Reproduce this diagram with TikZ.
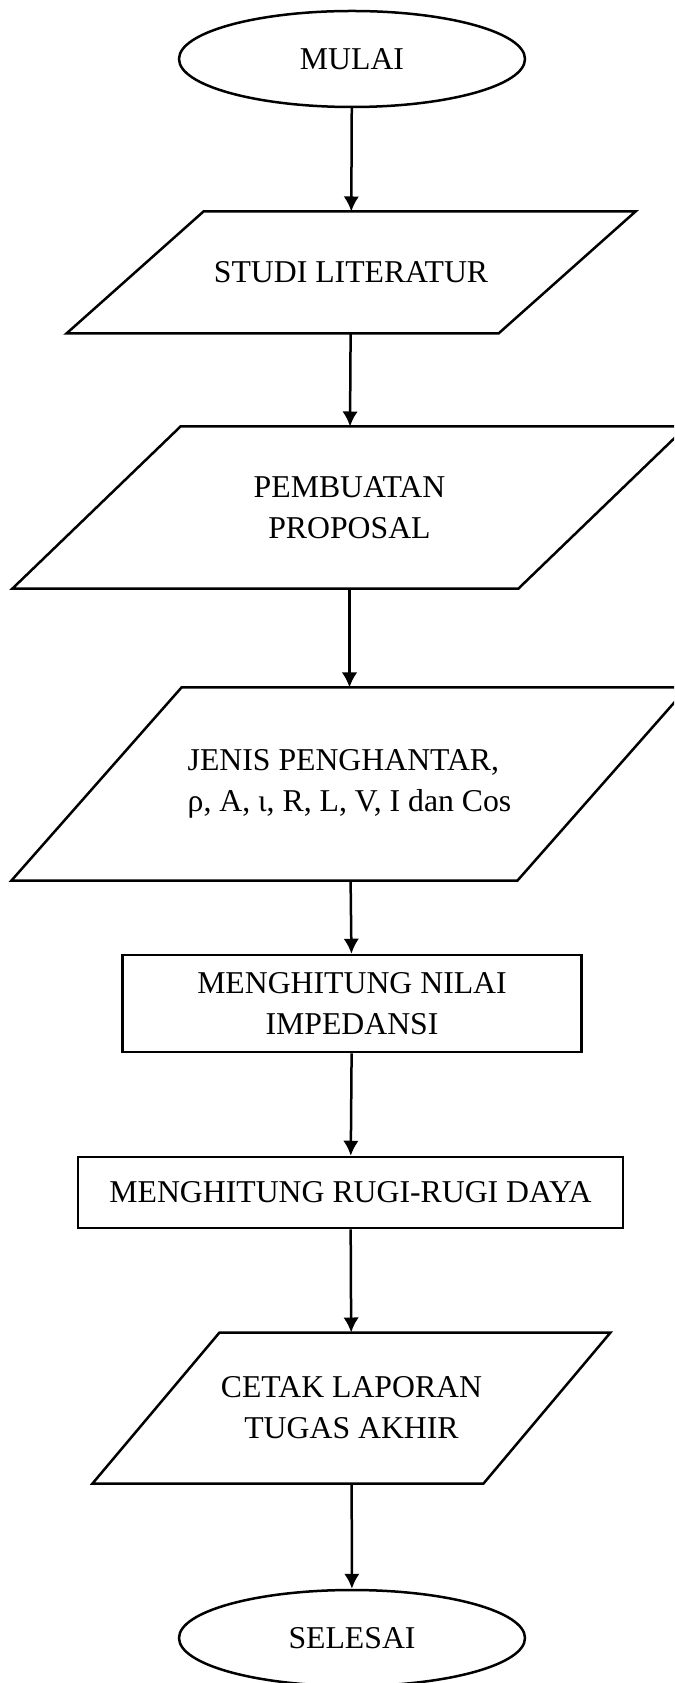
\documentclass[tikz,border=0pt]{standalone}
\usepackage{fontspec}
\setmainfont{Liberation Serif}
\usetikzlibrary{arrows.meta,calc,shapes.geometric}

% slanted input/output box drawn round a named node
\newcommand{\iobox}[2]{%
  \draw[line width=1pt] ($(#1.south west)+(-#2,0)$) -- ($(#1.south east)+(-#2,0)$)
    -- ($(#1.north east)+(#2,0)$) -- ($(#1.north west)+(#2,0)$) -- cycle;}

\begin{document}
\begin{tikzpicture}[
    x=0.4pt, y=-0.4pt,
    every node/.style={font=\fontsize{12.7}{16.5}\selectfont},
    terminal/.style={ellipse, draw, line width=1pt, minimum width=138.4pt,
        minimum height=38.4pt, inner sep=0pt},
    iotext/.style={rectangle, align=center, inner sep=0pt},
    process/.style={rectangle, draw, line width=1pt, align=center, inner sep=0pt},
    arrow/.style={-{Latex[length=6pt, width=6.2pt]}, line width=1pt},
    ]
    \useasboundingbox (0,0) rectangle (674,1683);
    \clip (0,0) rectangle (674,1683);
    % Start
    \node[terminal] (mulai) at (352,59) {MULAI};
    % Inputs
    \node[iotext, minimum width=172.4pt, minimum height=48.4pt] (studi) at (351,272.5) {STUDI LITERATUR};
    \node[iotext, minimum width=202pt, minimum height=64.4pt] (proposal) at (349.5,507.5) {PEMBUATAN\\PROPOSAL};
    \node[iotext, align=left, minimum width=202pt, minimum height=76.8pt] (jenis) at (349.5,784) {JENIS PENGHANTAR,\\ρ, A, ι, R, L, V, I dan Cos};
    \iobox{studi}{68.5}
    \iobox{proposal}{84}
    \iobox{jenis}{85}
    % Processes
    \node[process, minimum width=183.6pt, minimum height=38.8pt] (impedansi) at (352,1003.5) {MENGHITUNG NILAI\\IMPEDANSI};
    \node[process, minimum width=218pt, minimum height=28.4pt] (rugi) at (350.5,1192.5) {MENGHITUNG RUGI-RUGI DAYA};
    % Output and end
    \node[iotext, minimum width=156pt, minimum height=60pt] (cetak) at (351.5,1408) {CETAK LAPORAN\\TUGAS AKHIR};
    \iobox{cetak}{63.5}
    \node[terminal] (selesai) at (352,1638) {SELESAI};
    % Arrows
    \draw[arrow] (mulai) -- (studi);
    \draw[arrow] (studi) -- (proposal);
    \draw[arrow] (proposal) -- (jenis);
    \draw[arrow] (jenis) -- (impedansi);
    \draw[arrow] (impedansi) -- (rugi);
    \draw[arrow] (rugi) -- (cetak);
    \draw[arrow] (cetak) -- (selesai);
\end{tikzpicture}
\end{document}
